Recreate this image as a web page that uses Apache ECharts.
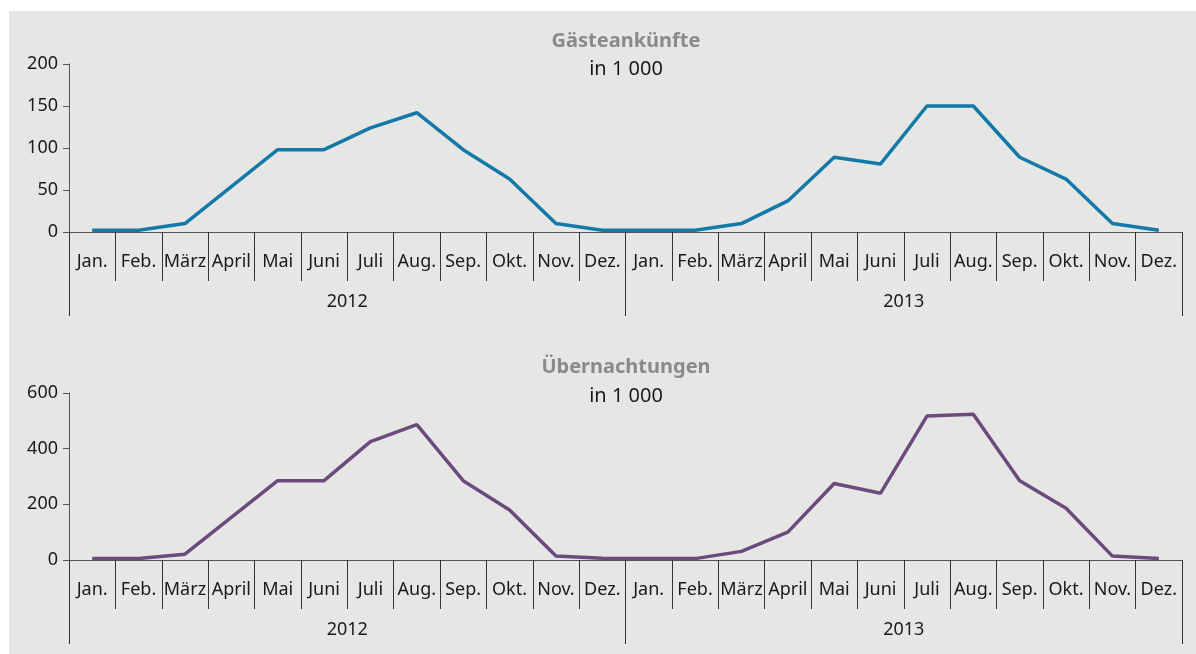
<!DOCTYPE html>
<html>
<head>
<meta charset="utf-8">
<script src="https://cdn.jsdelivr.net/npm/echarts@6/dist/echarts.min.js"></script>
<style>
html,body{margin:0;padding:0;background:#ffffff;}
#bg{position:absolute;left:9px;top:11px;width:1187px;height:643px;background:#e6e6e5;}
#chart{position:absolute;left:0;top:0;width:1196px;height:654px;}
</style>
</head>
<body>
<div id="bg"></div>
<div id="chart"></div>
<script>
const months = ['Jan.','Feb.','März','April','Mai','Juni','Juli','Aug.','Sep.','Okt.','Nov.','Dez.',
                'Jan.','Feb.','März','April','Mai','Juni','Juli','Aug.','Sep.','Okt.','Nov.','Dez.'];
const years = ['2012','2013'];
const arrivals = [2,2,10,54,98,98,124,142,98,63,10,2, 2,2,10,37,89,81,150,150,89,63,10,2];
const overnights = [5,5,21,153,285,285,425,486,285,180,14,6, 5,5,31,100,275,240,517,524,285,186,14,5];
const topTitle = 'Gästeankünfte';
const bottomTitle = 'Übernachtungen';
const unitText = 'in 1 000';

const FONT = 'Noto Sans';
const FS = 18;
const chart = echarts.init(document.getElementById('chart'), null, {renderer:'canvas'});

function monthAxis(g){
  return {
    type:'category', gridIndex:g, data:months, position:'bottom', boundaryGap:true,
    axisLine:{show:true, lineStyle:{color:'#555555', width:1}},
    axisTick:{show:true, interval:0, length:49, lineStyle:{color:'#333333', width:1}},
    axisLabel:{interval:0, margin:21, fontFamily:FONT, fontSize:FS, color:'#1a1a1a'}
  };
}
function yearAxis(g){
  return {
    type:'category', gridIndex:g, data:years, position:'bottom', boundaryGap:true,
    axisLine:{show:false},
    axisTick:{show:true, interval:0, length:84, lineStyle:{color:'#333333', width:1}},
    axisLabel:{interval:0, margin:61, fontFamily:FONT, fontSize:FS, color:'#1a1a1a'}
  };
}
function valAxis(g, max, interval){
  return {
    type:'value', gridIndex:g, min:0, max:max, interval:interval,
    axisLine:{show:true, lineStyle:{color:'#555555', width:1}},
    axisTick:{show:true, length:6, lineStyle:{color:'#555555'}},
    splitLine:{show:false},
    axisLabel:{margin:11, fontFamily:FONT, fontSize:FS, color:'#1a1a1a'}
  };
}

const option = {
  backgroundColor:'transparent',
  animation:false,
  grid:[
    {left:69, right:14, top:64, height:168, containLabel:false},
    {left:69, right:14, top:393, height:167, containLabel:false}
  ],
  xAxis:[monthAxis(0), yearAxis(0), monthAxis(1), yearAxis(1)],
  yAxis:[valAxis(0,200,50), valAxis(1,600,200)],
  series:[
    {type:'line', xAxisIndex:0, yAxisIndex:0, data:arrivals, symbol:'none',
     lineStyle:{color:'#1479a8', width:3.5}, itemStyle:{color:'#1479a8'}},
    {type:'line', xAxisIndex:2, yAxisIndex:1, data:overnights, symbol:'none',
     lineStyle:{color:'#6d4a7e', width:3.5}, itemStyle:{color:'#6d4a7e'}}
  ],
  graphic:[
    {type:'text', x:626, y:41, style:{text:topTitle, align:'center', verticalAlign:'middle', fontFamily:FONT, fontSize:20, fontWeight:'bold', fill:'#8a8a8a'}},
    {type:'text', x:626, y:69, style:{text:unitText, align:'center', verticalAlign:'middle', fontFamily:FONT, fontSize:20, fill:'#1a1a1a'}},
    {type:'text', x:626, y:367, style:{text:bottomTitle, align:'center', verticalAlign:'middle', fontFamily:FONT, fontSize:20, fontWeight:'bold', fill:'#8a8a8a'}},
    {type:'text', x:626, y:396, style:{text:unitText, align:'center', verticalAlign:'middle', fontFamily:FONT, fontSize:20, fill:'#1a1a1a'}}
  ]
};
chart.setOption(option);
</script>
</body>
</html>
